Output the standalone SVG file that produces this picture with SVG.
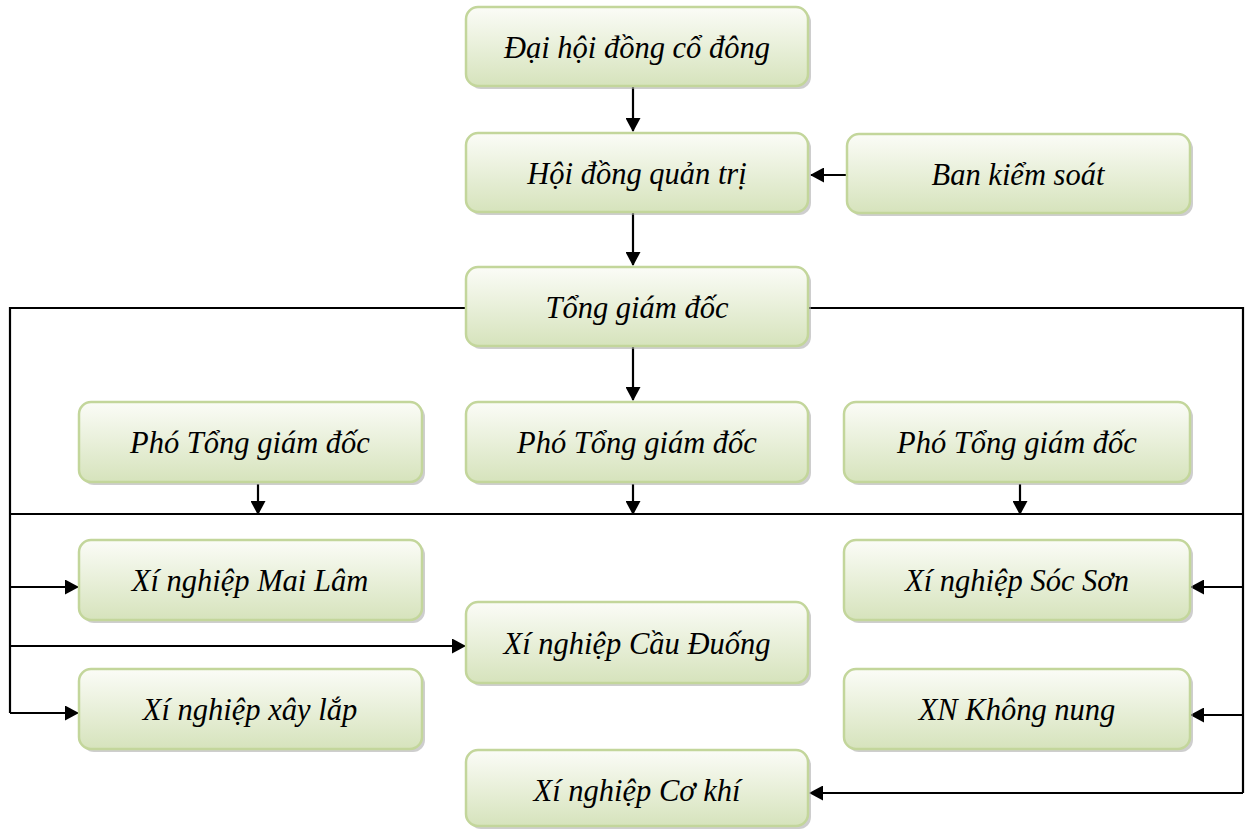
<svg xmlns="http://www.w3.org/2000/svg" width="1245" height="831" viewBox="0 0 1245 831">
<style>
.box{fill:url(#g);stroke:#c3d69b;stroke-width:2.5}
.sh{fill:#a6a6a6;opacity:0.55}
.t{font-family:"Liberation Serif",serif;font-style:italic;font-size:30.5px;fill:#000;text-anchor:middle}
.c{fill:none;stroke:#000;stroke-width:2.2}
</style>
<defs>
<linearGradient id="g" x1="0" y1="0" x2="0" y2="1">
<stop offset="0" stop-color="#fbfcf7"/>
<stop offset="1" stop-color="#d6e3bc"/>
</linearGradient>
<marker id="a" markerWidth="14" markerHeight="15" refX="13" refY="7.5" orient="auto" markerUnits="userSpaceOnUse" viewBox="0 0 14 15">
<path d="M0,0 L14,7.5 L0,15 z" fill="#000"/>
</marker>
</defs>
<g id="connectors">
<line class="c" x1="633" y1="87" x2="633" y2="131" marker-end="url(#a)"/>
<line class="c" x1="847" y1="175" x2="811" y2="175" marker-end="url(#a)"/>
<line class="c" x1="633" y1="213" x2="633" y2="265" marker-end="url(#a)"/>
<line class="c" x1="633" y1="347" x2="633" y2="400" marker-end="url(#a)"/>
<polyline class="c" points="466,308 10,308 10,713"/>
<polyline class="c" points="808,308 1243,308 1243,793"/>
<line class="c" x1="10" y1="514" x2="1243" y2="514"/>
<line class="c" x1="258" y1="484" x2="258" y2="514" marker-end="url(#a)"/>
<line class="c" x1="633" y1="484" x2="633" y2="514" marker-end="url(#a)"/>
<line class="c" x1="1020" y1="484" x2="1020" y2="514" marker-end="url(#a)"/>
<line class="c" x1="10" y1="587" x2="78" y2="587" marker-end="url(#a)"/>
<line class="c" x1="10" y1="646" x2="465" y2="646" marker-end="url(#a)"/>
<line class="c" x1="10" y1="713" x2="78" y2="713" marker-end="url(#a)"/>
<line class="c" x1="1243" y1="587" x2="1191" y2="587" marker-end="url(#a)"/>
<line class="c" x1="1243" y1="715" x2="1191" y2="715" marker-end="url(#a)"/>
<line class="c" x1="1243" y1="793" x2="810" y2="793" marker-end="url(#a)"/>
</g>
<g id="n1"><rect class="sh" x="469" y="10" width="342" height="79" rx="12"/><rect class="box" x="466" y="7" width="342" height="79" rx="12"/><text class="t" x="637" y="58">Đại hội đồng cổ đông</text></g>
<g id="n2"><rect class="sh" x="469" y="136" width="342" height="79" rx="12"/><rect class="box" x="466" y="133" width="342" height="79" rx="12"/><text class="t" x="637" y="184">Hội đồng quản trị</text></g>
<g id="n3"><rect class="sh" x="850" y="137" width="343" height="79" rx="12"/><rect class="box" x="847" y="134" width="343" height="79" rx="12"/><text class="t" x="1018" y="185">Ban kiểm soát</text></g>
<g id="n4"><rect class="sh" x="469" y="270" width="342" height="79" rx="12"/><rect class="box" x="466" y="267" width="342" height="79" rx="12"/><text class="t" x="637" y="318">Tổng giám đốc</text></g>
<g id="n5"><rect class="sh" x="82" y="405" width="343" height="80" rx="12"/><rect class="box" x="79" y="402" width="343" height="80" rx="12"/><text class="t" x="250" y="453">Phó Tổng giám đốc</text></g>
<g id="n6"><rect class="sh" x="469" y="405" width="342" height="80" rx="12"/><rect class="box" x="466" y="402" width="342" height="80" rx="12"/><text class="t" x="637" y="453">Phó Tổng giám đốc</text></g>
<g id="n7"><rect class="sh" x="847" y="405" width="346" height="80" rx="12"/><rect class="box" x="844" y="402" width="346" height="80" rx="12"/><text class="t" x="1017" y="453">Phó Tổng giám đốc</text></g>
<g id="n8"><rect class="sh" x="82" y="543" width="343" height="80" rx="12"/><rect class="box" x="79" y="540" width="343" height="80" rx="12"/><text class="t" x="250" y="591">Xí nghiệp Mai Lâm</text></g>
<g id="n9"><rect class="sh" x="847" y="543" width="346" height="80" rx="12"/><rect class="box" x="844" y="540" width="346" height="80" rx="12"/><text class="t" x="1017" y="591">Xí nghiệp Sóc Sơn</text></g>
<g id="n10"><rect class="sh" x="469" y="605" width="342" height="81" rx="12"/><rect class="box" x="466" y="602" width="342" height="81" rx="12"/><text class="t" x="637" y="654">Xí nghiệp Cầu Đuống</text></g>
<g id="n11"><rect class="sh" x="82" y="672" width="343" height="80" rx="12"/><rect class="box" x="79" y="669" width="343" height="80" rx="12"/><text class="t" x="250" y="720">Xí nghiệp xây lắp</text></g>
<g id="n12"><rect class="sh" x="847" y="672" width="346" height="80" rx="12"/><rect class="box" x="844" y="669" width="346" height="80" rx="12"/><text class="t" x="1017" y="720">XN Không nung</text></g>
<g id="n13"><rect class="sh" x="469" y="753" width="342" height="76" rx="12"/><rect class="box" x="466" y="750" width="342" height="76" rx="12"/><text class="t" x="637" y="801">Xí nghiệp Cơ khí</text></g>
</svg>
